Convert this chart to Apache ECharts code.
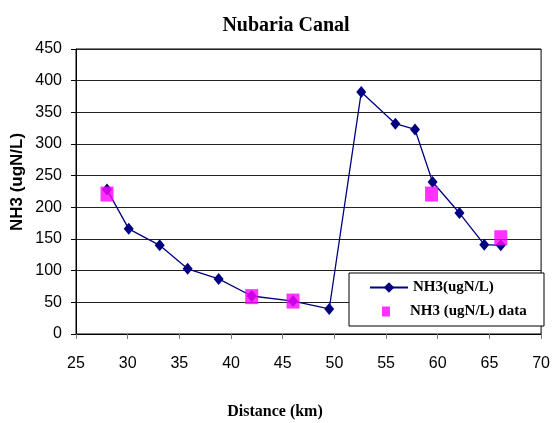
<!DOCTYPE html>
<html>
<head>
<meta charset="utf-8">
<script src="https://cdn.jsdelivr.net/npm/echarts@6/dist/echarts.min.js"></script>
<style>
  html, body { margin: 0; padding: 0; background: #fff; }
  #chart { width: 553px; height: 423px; }
</style>
</head>
<body>
<div id="chart"></div>
<script>
// Modelled NH3 profile along the canal (distance in km, concentration in ugN/L)
const modelDist = [28.0, 30.1, 33.1, 35.8, 38.8, 42.0, 46.0, 49.5, 52.6, 55.9, 57.8, 59.5, 62.1, 64.5, 66.1];
const modelNH3  = [228, 166, 140, 103, 87, 60, 52, 39.5, 382, 332, 323, 240, 191, 141, 140];

// Measured NH3 at sampling stations
const obsDist = [28.0, 42.0, 46.0, 59.4, 66.1];
const obsNH3  = [221, 59, 52, 221, 152];

const seriesNames = ['NH3(ugN/L)', 'NH3 (ugN/L) data'];
const titleText = 'Nubaria Canal';
const xName = 'Distance (km)';
const yName = 'NH3 (ugN/L)';

const pair = (xs, ys) => xs.map((x, i) => [x, ys[i]]);

const serif = '"Liberation Serif", "Times New Roman", serif';
const sans = '"Liberation Sans", Arial, sans-serif';

const chart = echarts.init(document.getElementById('chart'), null, { renderer: 'canvas' });

chart.setOption({
  animation: false,
  backgroundColor: '#fff',
  title: {
    text: titleText,
    left: 281,
    top: 11,
    textAlign: 'center',
    textStyle: { fontFamily: serif, fontWeight: 'bold', fontSize: 20, color: '#000' }
  },
  grid: {
    left: 76, right: 10, top: 49, bottom: 89,
    show: true, borderColor: '#000', borderWidth: 1, backgroundColor: 'transparent'
  },
  xAxis: {
    type: 'value',
    min: 25, max: 70, interval: 5,
    axisLine: { show: true, lineStyle: { color: '#000', width: 1 } },
    axisTick: { show: true, length: 5, lineStyle: { color: '#777' } },
    axisLabel: { margin: 22, fontFamily: sans, fontSize: 16, color: '#000' },
    splitLine: { show: false }
  },
  yAxis: {
    type: 'value',
    min: 0, max: 450, interval: 50,
    axisLine: { show: true, lineStyle: { color: '#000', width: 1 } },
    axisTick: { show: true, length: 5, lineStyle: { color: '#000' } },
    axisLabel: { margin: 14, fontFamily: sans, fontSize: 16, color: '#000' },
    splitLine: { show: true, lineStyle: { color: '#222', width: 1 } }
  },
  legend: [
    {
      left: 369, top: 280, padding: 0, z: 10,
      itemWidth: 38, itemHeight: 13,
      data: [seriesNames[0]],
      textStyle: { fontFamily: serif, fontWeight: 'bold', fontSize: 15, color: '#000' }
    },
    {
      left: 382, top: 304, padding: 0, z: 10,
      itemWidth: 8, itemHeight: 10,
      data: [{ name: seriesNames[1], icon: 'rect' }],
      textStyle: { fontFamily: serif, fontWeight: 'bold', fontSize: 15, color: '#000', padding: [0, 0, 0, 15] }
    }
  ],
  graphic: [
    {
      type: 'rect', z: 8,
      shape: { x: 349, y: 273, width: 195, height: 53 },
      style: { fill: '#fff', stroke: '#000', lineWidth: 1 }
    },
    {
      type: 'text', z: 10,
      x: 17, y: 182, rotation: Math.PI / 2,
      style: {
        text: yName, align: 'center', verticalAlign: 'middle',
        fontFamily: sans, fontWeight: 'bold', fontSize: 17, fill: '#000'
      }
    },
    {
      type: 'text', z: 10,
      x: 275, y: 412,
      style: {
        text: xName, align: 'center', verticalAlign: 'middle',
        fontFamily: serif, fontWeight: 'bold', fontSize: 16, fill: '#000'
      }
    }
  ],
  series: [
    {
      name: seriesNames[0],
      type: 'line',
      data: pair(modelDist, modelNH3),
      symbol: 'diamond',
      symbolSize: [10, 12],
      showAllSymbol: true,
      lineStyle: { color: '#000080', width: 1.3 },
      itemStyle: { color: '#000080' },
      z: 2
    },
    {
      name: seriesNames[1],
      type: 'scatter',
      data: pair(obsDist, obsNH3),
      symbol: 'rect',
      symbolSize: [13, 15],
      itemStyle: { color: '#ff00ff' },
      z: 3
    }
  ]
});
</script>
</body>
</html>
